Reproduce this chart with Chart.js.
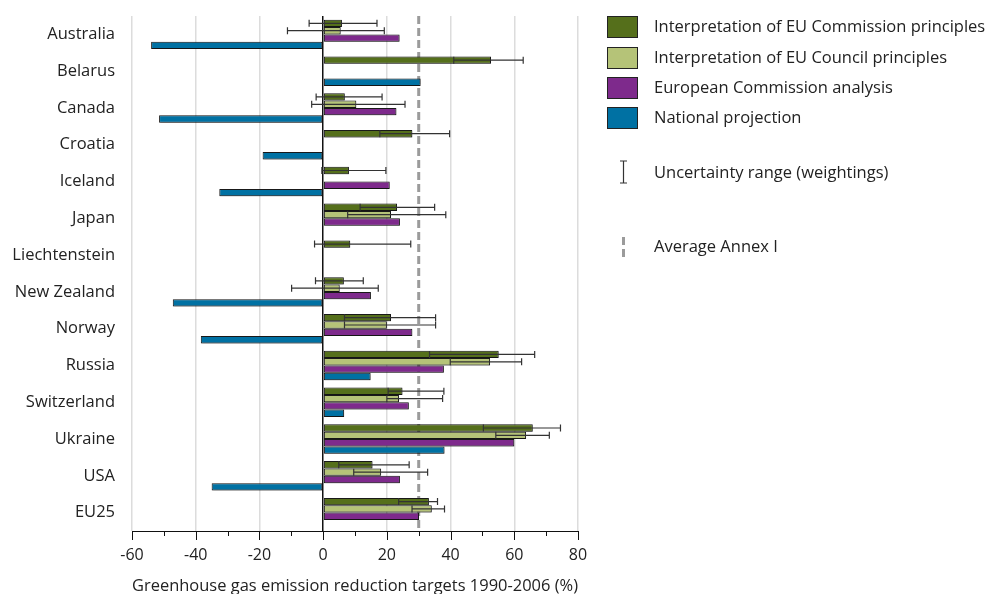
<!DOCTYPE html>
<html lang="en">
<head>
    <meta charset="UTF-8">
    <title>Greenhouse gas emission reduction targets</title>
    <script src="https://cdn.jsdelivr.net/npm/chart.js@4.4.1/dist/chart.umd.min.js"></script>
    <style>
        body {
            margin: 0;
            background: white;
        }
        .chart-container {
            position: relative;
            width: 992px;
            height: 594px;
        }
    </style>
</head>
<body>
    <div class="chart-container">
        <canvas id="targetsChart"></canvas>
    </div>

    <script>
        const countries = ['Australia', 'Belarus', 'Canada', 'Croatia', 'Iceland', 'Japan', 'Liechtenstein',
            'New Zealand', 'Norway', 'Russia', 'Switzerland', 'Ukraine', 'USA', 'EU25'];

        // Reduction targets 1990-2006 (%), with low/high of the weighting range
        const commission     = [5.9, 52.7, 6.8, 28.0, 8.1, 23.2, 8.5, 6.5, 21.3, 55.1, 24.9, 65.8, 15.5, 33.2];
        const commissionLow  = [-4.4, 41.0, -2.2, 17.8, -0.4, 11.6, -2.7, -2.4, 6.7, 33.4, 20.4, 50.3, 4.9, 23.7];
        const commissionHigh = [16.9, 62.8, 18.5, 39.7, 19.7, 35.0, 27.5, 12.6, 35.3, 66.4, 37.9, 74.5, 27.0, 35.9];

        const council     = [5.5, null, 10.4, null, null, 21.3, null, 5.2, 20.0, 52.4, 23.8, 63.7, 18.2, 34.1];
        const councilLow  = [-11.2, null, -3.6, null, null, 7.7, null, -9.9, 6.7, 39.9, 20.0, 54.2, 9.6, 27.9];
        const councilHigh = [19.2, null, 25.7, null, null, 38.5, null, 17.3, 35.3, 62.3, 37.5, 71.0, 32.8, 38.1];

        const analysis = [24.0, null, 23.0, null, 20.9, 24.1, null, 15.0, 28.0, 37.9, 26.9, 60.0, 24.1, 30.1];
        const national = [-54.0, 30.6, -51.5, -19.0, -32.6, null, null, -47.2, -38.4, 14.9, 6.6, 38.1, -35.0, null];

        const annexAverage = 30;

        const xTicks = [-60, -40, -20, 0, 20, 40, 60, 80];

        const FONT = "'Open Sans', sans-serif";
        const TEXT = '#222';

        // Average Annex I dashed line, drawn behind the bars
        const annexLine = {
            id: 'annexLine',
            beforeDatasetsDraw(chart) {
                const { ctx, chartArea, scales } = chart;
                const x = scales.x.getPixelForValue(annexAverage);
                ctx.save();
                ctx.strokeStyle = '#9b9b9b';
                ctx.lineWidth = 3;
                ctx.setLineDash([8, 4]);
                ctx.beginPath();
                ctx.moveTo(x, chartArea.top);
                ctx.lineTo(x, chartArea.bottom);
                ctx.stroke();
                ctx.restore();

                // soft shadow under the bars
                ctx.save();
                ctx.shadowColor = 'rgba(0,0,0,0.3)';
                ctx.shadowOffsetX = 1;
                ctx.shadowOffsetY = 1;
                ctx.shadowBlur = 2;
            },
            afterDatasetsDraw(chart) {
                chart.ctx.restore();
            }
        };

        // Uncertainty ranges for the two interpretation series
        const errorBars = {
            id: 'errorBars',
            afterDatasetsDraw(chart) {
                const { ctx, scales } = chart;
                ctx.save();
                ctx.strokeStyle = '#333';
                ctx.lineWidth = 1.2;
                chart.data.datasets.forEach((ds, i) => {
                    if (!ds.low) return;
                    const meta = chart.getDatasetMeta(i);
                    meta.data.forEach((bar, j) => {
                        if (ds.low[j] == null) return;
                        const y = bar.y;
                        const x1 = scales.x.getPixelForValue(ds.low[j]);
                        const x2 = scales.x.getPixelForValue(ds.high[j]);
                        const h = 3.5;
                        ctx.beginPath();
                        ctx.moveTo(x1, y);
                        ctx.lineTo(x2, y);
                        ctx.moveTo(x1, y - h);
                        ctx.lineTo(x1, y + h);
                        ctx.moveTo(x2, y - h);
                        ctx.lineTo(x2, y + h);
                        ctx.stroke();
                    });
                });
                ctx.restore();
            }
        };

        // Tick marks below the x axis: long at labels, short in between
        const axisTicks = {
            id: 'axisTicks',
            afterDraw(chart) {
                const { ctx, chartArea, scales } = chart;
                ctx.save();
                ctx.strokeStyle = '#111';
                ctx.lineWidth = 1;
                for (let v = -60; v <= 80; v += 10) {
                    const x = Math.round(scales.x.getPixelForValue(v)) + 0.5;
                    const len = v % 20 === 0 ? 9 : 5;
                    ctx.beginPath();
                    ctx.moveTo(x, chartArea.bottom);
                    ctx.lineTo(x, chartArea.bottom + len);
                    ctx.stroke();
                }
                ctx.restore();
            }
        };

        // Legend at the right, with the range and Annex I symbols
        const sideLegend = {
            id: 'sideLegend',
            afterDraw(chart) {
                const { ctx } = chart;
                const sx = 607, tx = 654;
                const rows = [27, 58, 88, 118];
                ctx.save();
                ctx.font = '16.5px ' + FONT;
                ctx.textBaseline = 'middle';
                chart.data.datasets.forEach((ds, i) => {
                    const y = rows[i];
                    ctx.fillStyle = ds.backgroundColor;
                    ctx.fillRect(sx, y - 11, 31, 22);
                    ctx.strokeStyle = '#222';
                    ctx.lineWidth = 1;
                    ctx.strokeRect(sx + 0.5, y - 10.5, 30, 21);
                    ctx.fillStyle = TEXT;
                    ctx.fillText(ds.label, tx, y);
                });

                // uncertainty symbol
                const ix = 623.5;
                ctx.strokeStyle = '#333';
                ctx.lineWidth = 1.2;
                ctx.beginPath();
                ctx.moveTo(ix, 161);
                ctx.lineTo(ix, 183);
                ctx.moveTo(ix - 3.5, 161);
                ctx.lineTo(ix + 3.5, 161);
                ctx.moveTo(ix - 3.5, 183);
                ctx.lineTo(ix + 3.5, 183);
                ctx.stroke();
                ctx.fillStyle = TEXT;
                ctx.fillText('Uncertainty range (weightings)', tx, 173);

                // annex I symbol
                ctx.strokeStyle = '#9b9b9b';
                ctx.lineWidth = 3;
                ctx.setLineDash([8, 4]);
                ctx.beginPath();
                ctx.moveTo(ix, 237);
                ctx.lineTo(ix, 259);
                ctx.stroke();
                ctx.setLineDash([]);
                ctx.fillText('Average Annex I', tx, 247);
                ctx.restore();
            }
        };

        const barStyle = {
            borderColor: '#1a1a1a',
            borderWidth: 1,
            borderSkipped: false,
            categoryPercentage: 0.8,
            barPercentage: 1.0
        };

        new Chart(document.getElementById('targetsChart'), {
            type: 'bar',
            data: {
                labels: countries,
                datasets: [
                    { label: 'Interpretation of EU Commission principles', data: commission,
                      low: commissionLow, high: commissionHigh, backgroundColor: '#556f1b', ...barStyle },
                    { label: 'Interpretation of EU Council principles', data: council,
                      low: councilLow, high: councilHigh, backgroundColor: '#b5c378', ...barStyle },
                    { label: 'European Commission analysis', data: analysis,
                      backgroundColor: '#7e2a8c', ...barStyle },
                    { label: 'National projection', data: national,
                      backgroundColor: '#0071a3', ...barStyle }
                ]
            },
            options: {
                indexAxis: 'y',
                responsive: true,
                maintainAspectRatio: false,
                animation: false,
                layout: {
                    padding: { top: 16, right: 414, left: 0, bottom: 0 }
                },
                plugins: {
                    legend: { display: false },
                    tooltip: { enabled: false }
                },
                scales: {
                    x: {
                        min: -60,
                        max: 80,
                        afterFit(scale) { scale.height = 63; },
                        ticks: {
                            stepSize: 10,
                            autoSkip: false,
                            maxRotation: 0,
                            padding: 15,
                            color: TEXT,
                            font: { family: FONT, size: 16 },
                            callback: v => xTicks.includes(v) ? v : ''
                        },
                        grid: {
                            drawTicks: false,
                            color: c => c.tick.value === 0 ? '#111' : (c.tick.value % 20 === 0 ? '#dcdcdc' : 'transparent'),
                            lineWidth: 1.5
                        },
                        border: { display: true, color: '#111', width: 1 },
                        title: {
                            display: true,
                            text: 'Greenhouse gas emission reduction targets 1990-2006 (%)',
                            color: TEXT,
                            font: { family: FONT, size: 16.5 },
                            padding: { top: 0, bottom: -2 }
                        }
                    },
                    y: {
                        afterFit(scale) {
                            scale.width = 132;
                            scale.paddingTop = 0;
                            scale.paddingBottom = 0;
                        },
                        ticks: {
                            padding: 17,
                            color: TEXT,
                            font: { family: FONT, size: 16.5 }
                        },
                        grid: { display: false, drawTicks: false },
                        border: { display: false }
                    }
                }
            },
            plugins: [annexLine, errorBars, axisTicks, sideLegend]
        });
    </script>
</body>
</html>
